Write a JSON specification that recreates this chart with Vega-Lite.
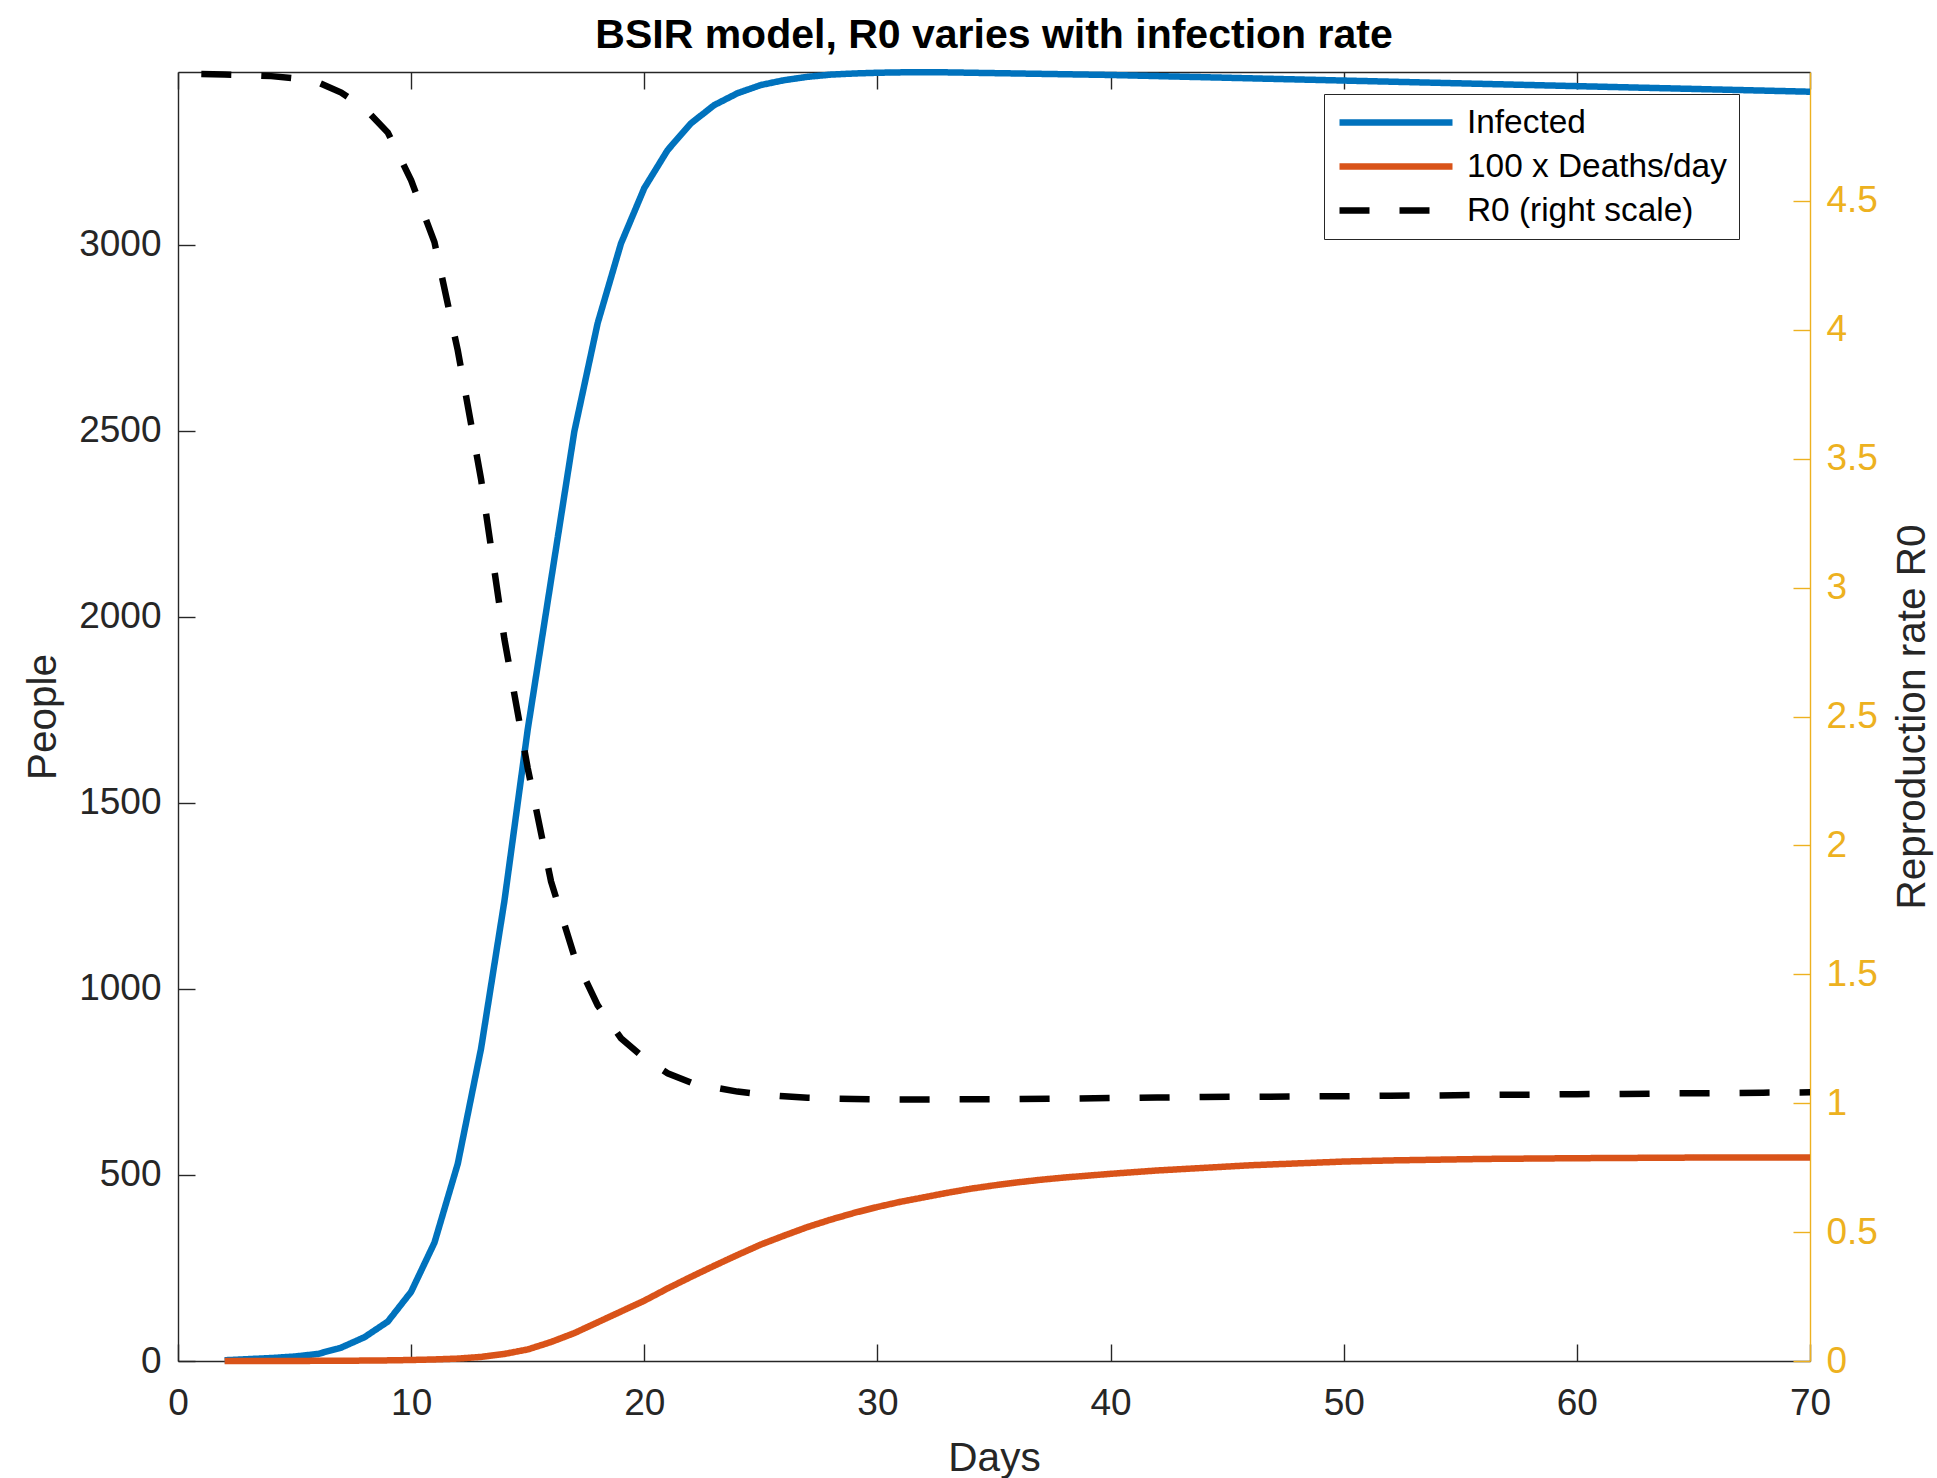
{
  "$schema": "https://vega.github.io/schema/vega-lite/v6.json",
  "width": 1632,
  "height": 1289,
  "autosize": "none",
  "padding": {"left": 178, "top": 72, "right": 127, "bottom": 117},
  "background": "white",
  "title": {"text": "BSIR model, R0 varies with infection rate", "fontSize": 41, "fontWeight": "bold", "font": "Liberation Sans", "color": "#000000", "anchor": "middle", "offset": -30, "baseline": "alphabetic"},
  "config": {
    "view": {"stroke": null},
    "font": "Liberation Sans",
    "axis": {"grid": false, "labelFlush": false, "domainWidth": 1.4, "tickWidth": 1.4, "labelFontSize": 37, "titleFontSize": 40.5, "titleFontWeight": "normal", "labelColor": "#262626", "titleColor": "#262626", "domainColor": "#262626", "tickColor": "#262626"}
  },
  "layer": [
    {
      "data": {"values": [
        {"day": 2, "value": 2, "series": "Infected"}, {"day": 3, "value": 5, "series": "Infected"}, {"day": 4, "value": 8, "series": "Infected"}, {"day": 5, "value": 12, "series": "Infected"}, {"day": 6, "value": 19, "series": "Infected"}, {"day": 7, "value": 36, "series": "Infected"}, {"day": 8, "value": 64, "series": "Infected"}, {"day": 9, "value": 106, "series": "Infected"}, {"day": 10, "value": 186, "series": "Infected"}, {"day": 11, "value": 318, "series": "Infected"}, {"day": 12, "value": 530, "series": "Infected"}, {"day": 13, "value": 840, "series": "Infected"}, {"day": 14, "value": 1236, "series": "Infected"}, {"day": 15, "value": 1697, "series": "Infected"}, {"day": 16, "value": 2098, "series": "Infected"}, {"day": 17, "value": 2498, "series": "Infected"}, {"day": 18, "value": 2789, "series": "Infected"}, {"day": 19, "value": 3003, "series": "Infected"}, {"day": 20, "value": 3152, "series": "Infected"}, {"day": 21, "value": 3254, "series": "Infected"}, {"day": 22, "value": 3326, "series": "Infected"}, {"day": 23, "value": 3375, "series": "Infected"}, {"day": 24, "value": 3407, "series": "Infected"}, {"day": 25, "value": 3429, "series": "Infected"}, {"day": 26, "value": 3442, "series": "Infected"}, {"day": 27, "value": 3451, "series": "Infected"}, {"day": 28, "value": 3457, "series": "Infected"}, {"day": 29, "value": 3460, "series": "Infected"}, {"day": 30, "value": 3462, "series": "Infected"}, {"day": 31, "value": 3463, "series": "Infected"}, {"day": 32, "value": 3463, "series": "Infected"}, {"day": 33, "value": 3463, "series": "Infected"}, {"day": 34, "value": 3462, "series": "Infected"}, {"day": 35, "value": 3461, "series": "Infected"}, {"day": 36, "value": 3460, "series": "Infected"}, {"day": 37, "value": 3459, "series": "Infected"}, {"day": 38, "value": 3458, "series": "Infected"}, {"day": 39, "value": 3457, "series": "Infected"}, {"day": 40, "value": 3456, "series": "Infected"}, {"day": 42, "value": 3453, "series": "Infected"}, {"day": 44, "value": 3450, "series": "Infected"}, {"day": 46, "value": 3447, "series": "Infected"}, {"day": 48, "value": 3444, "series": "Infected"}, {"day": 50, "value": 3441, "series": "Infected"}, {"day": 52, "value": 3438, "series": "Infected"}, {"day": 54, "value": 3435, "series": "Infected"}, {"day": 56, "value": 3432, "series": "Infected"}, {"day": 58, "value": 3429, "series": "Infected"}, {"day": 60, "value": 3426, "series": "Infected"}, {"day": 62, "value": 3423, "series": "Infected"}, {"day": 64, "value": 3420, "series": "Infected"}, {"day": 66, "value": 3417, "series": "Infected"}, {"day": 68, "value": 3414, "series": "Infected"}, {"day": 70, "value": 3411, "series": "Infected"},
        {"day": 2, "value": 0, "series": "100 x Deaths/day"}, {"day": 3, "value": 0, "series": "100 x Deaths/day"}, {"day": 4, "value": 0.1, "series": "100 x Deaths/day"}, {"day": 5, "value": 0.2, "series": "100 x Deaths/day"}, {"day": 6, "value": 0.4, "series": "100 x Deaths/day"}, {"day": 7, "value": 0.7, "series": "100 x Deaths/day"}, {"day": 8, "value": 1.1, "series": "100 x Deaths/day"}, {"day": 9, "value": 1.7, "series": "100 x Deaths/day"}, {"day": 10, "value": 2.7, "series": "100 x Deaths/day"}, {"day": 11, "value": 4.2, "series": "100 x Deaths/day"}, {"day": 12, "value": 6.5, "series": "100 x Deaths/day"}, {"day": 13, "value": 11, "series": "100 x Deaths/day"}, {"day": 14, "value": 19, "series": "100 x Deaths/day"}, {"day": 15, "value": 31, "series": "100 x Deaths/day"}, {"day": 16, "value": 51, "series": "100 x Deaths/day"}, {"day": 17, "value": 75, "series": "100 x Deaths/day"}, {"day": 18, "value": 104, "series": "100 x Deaths/day"}, {"day": 19, "value": 133, "series": "100 x Deaths/day"}, {"day": 20, "value": 162, "series": "100 x Deaths/day"}, {"day": 21, "value": 195, "series": "100 x Deaths/day"}, {"day": 22, "value": 226, "series": "100 x Deaths/day"}, {"day": 23, "value": 256, "series": "100 x Deaths/day"}, {"day": 24, "value": 285, "series": "100 x Deaths/day"}, {"day": 25, "value": 313, "series": "100 x Deaths/day"}, {"day": 26, "value": 337, "series": "100 x Deaths/day"}, {"day": 27, "value": 360, "series": "100 x Deaths/day"}, {"day": 28, "value": 380, "series": "100 x Deaths/day"}, {"day": 29, "value": 398, "series": "100 x Deaths/day"}, {"day": 30, "value": 414, "series": "100 x Deaths/day"}, {"day": 31, "value": 428, "series": "100 x Deaths/day"}, {"day": 32, "value": 440, "series": "100 x Deaths/day"}, {"day": 33, "value": 452, "series": "100 x Deaths/day"}, {"day": 34, "value": 463, "series": "100 x Deaths/day"}, {"day": 35, "value": 472, "series": "100 x Deaths/day"}, {"day": 36, "value": 480, "series": "100 x Deaths/day"}, {"day": 37, "value": 487, "series": "100 x Deaths/day"}, {"day": 38, "value": 493, "series": "100 x Deaths/day"}, {"day": 39, "value": 498, "series": "100 x Deaths/day"}, {"day": 40, "value": 503, "series": "100 x Deaths/day"}, {"day": 42, "value": 512, "series": "100 x Deaths/day"}, {"day": 44, "value": 519, "series": "100 x Deaths/day"}, {"day": 46, "value": 526, "series": "100 x Deaths/day"}, {"day": 48, "value": 531, "series": "100 x Deaths/day"}, {"day": 50, "value": 536, "series": "100 x Deaths/day"}, {"day": 52, "value": 539, "series": "100 x Deaths/day"}, {"day": 54, "value": 541, "series": "100 x Deaths/day"}, {"day": 56, "value": 543, "series": "100 x Deaths/day"}, {"day": 58, "value": 544, "series": "100 x Deaths/day"}, {"day": 60, "value": 545, "series": "100 x Deaths/day"}, {"day": 63, "value": 546, "series": "100 x Deaths/day"}, {"day": 66, "value": 547, "series": "100 x Deaths/day"}, {"day": 70, "value": 547, "series": "100 x Deaths/day"}
      ]},
      "mark": {"type": "line", "strokeWidth": 6.5},
      "encoding": {
        "x": {"field": "day", "type": "quantitative", "scale": {"domain": [0, 70], "nice": false},
              "axis": {"orient": "bottom", "values": [0, 10, 20, 30, 40, 50, 60, 70], "tickSize": -17, "labelPadding": 41, "title": "Days", "titlePadding": 17}},
        "y": {"field": "value", "type": "quantitative", "scale": {"domain": [0, 3464], "nice": false},
              "axis": {"orient": "left", "values": [0, 500, 1000, 1500, 2000, 2500, 3000], "format": "d", "tickSize": -17, "labelPadding": 34, "title": "People", "titlePadding": 14}},
        "color": {"field": "series", "type": "nominal",
                  "scale": {"domain": ["Infected", "100 x Deaths/day", "R0 (right scale)"], "range": ["#0072BD", "#D95319", "#000000"]},
                  "legend": {"title": null, "orient": "none", "legendX": 1146, "legendY": 22, "symbolType": "stroke", "symbolSize": 12769, "symbolStrokeWidth": 6.5, "clipHeight": 33, "rowPadding": 10, "padding": 12, "labelFontSize": 33.4, "labelLimit": 0, "labelColor": "#000000", "labelOffset": 11, "strokeColor": "#262626", "fillColor": "white"}},
        "strokeDash": {"field": "series", "type": "nominal",
                  "scale": {"domain": ["Infected", "100 x Deaths/day", "R0 (right scale)"], "range": [[1, 0], [1, 0], [30, 30]]},
                  "legend": {"title": null, "orient": "none", "legendX": 1146, "legendY": 22, "symbolType": "stroke", "symbolSize": 12769, "symbolStrokeWidth": 6.5, "clipHeight": 33, "rowPadding": 10, "padding": 12, "labelFontSize": 33.4, "labelLimit": 0, "labelColor": "#000000", "labelOffset": 11, "strokeColor": "#262626", "fillColor": "white"}}
      }
    },
    {
      "data": {"values": [
        {"day": 1, "r": 4.992, "series": "R0 (right scale)"}, {"day": 2, "r": 4.99, "series": "R0 (right scale)"}, {"day": 3, "r": 4.988, "series": "R0 (right scale)"}, {"day": 4, "r": 4.984, "series": "R0 (right scale)"}, {"day": 5, "r": 4.975, "series": "R0 (right scale)"}, {"day": 6, "r": 4.96, "series": "R0 (right scale)"}, {"day": 7, "r": 4.92, "series": "R0 (right scale)"}, {"day": 8, "r": 4.86, "series": "R0 (right scale)"}, {"day": 9, "r": 4.765, "series": "R0 (right scale)"}, {"day": 10, "r": 4.58, "series": "R0 (right scale)"}, {"day": 11, "r": 4.34, "series": "R0 (right scale)"}, {"day": 12, "r": 3.92, "series": "R0 (right scale)"}, {"day": 13, "r": 3.42, "series": "R0 (right scale)"}, {"day": 14, "r": 2.8, "series": "R0 (right scale)"}, {"day": 15, "r": 2.3, "series": "R0 (right scale)"}, {"day": 16, "r": 1.86, "series": "R0 (right scale)"}, {"day": 17, "r": 1.57, "series": "R0 (right scale)"}, {"day": 18, "r": 1.38, "series": "R0 (right scale)"}, {"day": 19, "r": 1.252, "series": "R0 (right scale)"}, {"day": 20, "r": 1.175, "series": "R0 (right scale)"}, {"day": 21, "r": 1.116, "series": "R0 (right scale)"}, {"day": 22, "r": 1.08, "series": "R0 (right scale)"}, {"day": 23, "r": 1.061, "series": "R0 (right scale)"}, {"day": 24, "r": 1.045, "series": "R0 (right scale)"}, {"day": 25, "r": 1.034, "series": "R0 (right scale)"}, {"day": 26, "r": 1.027, "series": "R0 (right scale)"}, {"day": 27, "r": 1.021, "series": "R0 (right scale)"}, {"day": 28, "r": 1.018, "series": "R0 (right scale)"}, {"day": 29, "r": 1.016, "series": "R0 (right scale)"}, {"day": 30, "r": 1.015, "series": "R0 (right scale)"}, {"day": 32, "r": 1.0145, "series": "R0 (right scale)"}, {"day": 34, "r": 1.015, "series": "R0 (right scale)"}, {"day": 36, "r": 1.016, "series": "R0 (right scale)"}, {"day": 38, "r": 1.018, "series": "R0 (right scale)"}, {"day": 40, "r": 1.02, "series": "R0 (right scale)"}, {"day": 42, "r": 1.022, "series": "R0 (right scale)"}, {"day": 44, "r": 1.024, "series": "R0 (right scale)"}, {"day": 46, "r": 1.025, "series": "R0 (right scale)"}, {"day": 48, "r": 1.026, "series": "R0 (right scale)"}, {"day": 50, "r": 1.027, "series": "R0 (right scale)"}, {"day": 52, "r": 1.029, "series": "R0 (right scale)"}, {"day": 54, "r": 1.03, "series": "R0 (right scale)"}, {"day": 56, "r": 1.032, "series": "R0 (right scale)"}, {"day": 58, "r": 1.033, "series": "R0 (right scale)"}, {"day": 60, "r": 1.035, "series": "R0 (right scale)"}, {"day": 62, "r": 1.036, "series": "R0 (right scale)"}, {"day": 64, "r": 1.038, "series": "R0 (right scale)"}, {"day": 66, "r": 1.039, "series": "R0 (right scale)"}, {"day": 68, "r": 1.041, "series": "R0 (right scale)"}, {"day": 70, "r": 1.042, "series": "R0 (right scale)"}
      ]},
      "mark": {"type": "line", "strokeWidth": 6.5},
      "encoding": {
        "x": {"field": "day", "type": "quantitative", "scale": {"domain": [0, 70], "nice": false},
              "axis": {"orient": "top", "values": [0, 10, 20, 30, 40, 50, 60, 70], "tickSize": -17, "labels": false, "title": null}},
        "y": {"field": "r", "type": "quantitative", "scale": {"domain": [0, 5], "nice": false},
              "axis": {"orient": "right", "values": [0, 0.5, 1, 1.5, 2, 2.5, 3, 3.5, 4, 4.5], "format": "~g", "tickSize": -17, "labelPadding": 33, "title": "Reproduction rate R0", "titleAngle": 270, "titleBaseline": "top", "titlePadding": 15, "domainColor": "#EDB120", "tickColor": "#EDB120", "labelColor": "#EDB120", "titleColor": "#262626"}},
        "color": {"field": "series", "type": "nominal"},
        "strokeDash": {"field": "series", "type": "nominal"}
      }
    }
  ],
  "resolve": {"scale": {"x": "independent", "y": "independent"}}
}
